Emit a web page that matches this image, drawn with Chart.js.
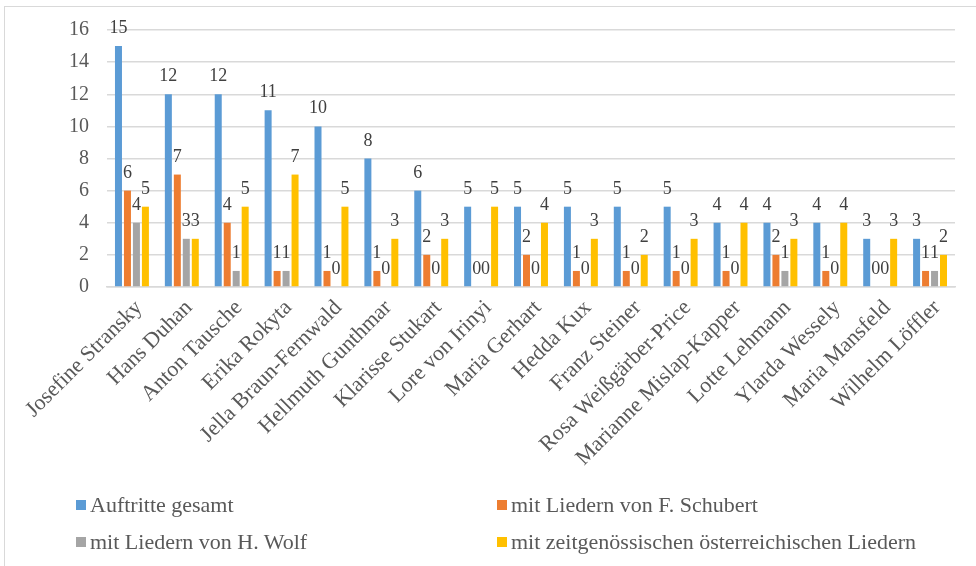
<!DOCTYPE html>
<html lang="de">
<head>
<meta charset="utf-8">
<script src="https://cdn.jsdelivr.net/npm/chart.js@4/dist/chart.umd.min.js"></script>
<style>
  html, body { margin: 0; padding: 0; background: #fff; overflow: hidden; }
  #wrap { position: relative; width: 976px; height: 566px; }
  #frame { position: absolute; left: 4px; top: 6px; width: 1000px; height: 600px;
           border: 1px solid #d9d9d9; box-sizing: border-box; }
  canvas { position: absolute; left: 0; top: 0; }
  .leg { position: absolute; font-family: 'Liberation Serif', 'DejaVu Serif', serif; font-size: 22px;
         color: #595959; white-space: nowrap; line-height: 22px; }
  .leg span.box { display: inline-block; width: 10px; height: 10px; margin-right: 4px;
                  vertical-align: 2px; }
</style>
</head>
<body>
<div id="wrap">
  <div id="frame"></div>
  <canvas id="c" width="976" height="566"></canvas>
  <div id="legend"></div>
</div>
<script>
// Sängerinnen und Sänger
const names = [
  "Josefine Stransky", "Hans Duhan", "Anton Tausche", "Erika Rokyta",
  "Jella Braun-Fernwald", "Hellmuth Gunthmar", "Klarisse Stukart", "Lore von Irinyi",
  "Maria Gerhart", "Hedda Kux", "Franz Steiner", "Rosa Weißgärber-Price",
  "Marianne Mislap-Kapper", "Lotte Lehmann", "Ylarda Wessely", "Maria Mansfeld",
  "Wilhelm Löffler"
];
const seriesNames = [
  "Auftritte gesamt",
  "mit Liedern von F. Schubert",
  "mit Liedern von H. Wolf",
  "mit zeitgenössischen österreichischen Liedern"
];
const auftritteGesamt = [15, 12, 12, 11, 10, 8, 6, 5, 5, 5, 5, 5, 4, 4, 4, 3, 3];
const schubert        = [6, 7, 4, 1, 1, 1, 2, 0, 2, 1, 1, 1, 1, 2, 1, 0, 1];
const wolf            = [4, 3, 1, 1, 0, 0, 0, 0, 0, 0, 0, 0, 0, 1, 0, 0, 1];
const zeitgenoessisch = [5, 3, 5, 7, 5, 3, 3, 5, 4, 3, 2, 3, 4, 3, 4, 3, 2];
const yTicks = [0, 2, 4, 6, 8, 10, 12, 14, 16];

const colors = ["#5B9BD5", "#ED7D31", "#A5A5A5", "#FFC000"];
const serif = "'Liberation Serif', 'DejaVu Serif', serif";

// value printed above every bar
const valueLabels = {
  id: 'valueLabels',
  afterDatasetsDraw(chart) {
    const ctx = chart.ctx;
    ctx.save();
    ctx.font = '18px ' + serif;
    ctx.fillStyle = '#404040';
    ctx.textAlign = 'center';
    ctx.textBaseline = 'alphabetic';
    chart.data.datasets.forEach((ds, i) => {
      chart.getDatasetMeta(i).data.forEach((bar, j) => {
        ctx.fillText(String(ds.data[j]), bar.x, bar.y - 13);
      });
    });
    ctx.restore();
  }
};

const seriesData = [auftritteGesamt, schubert, wolf, zeitgenoessisch];

const chart = new Chart(document.getElementById('c'), {
  type: 'bar',
  data: {
    labels: names,
    datasets: seriesData.map((d, i) => ({
      label: seriesNames[i],
      data: d,
      backgroundColor: colors[i],
      borderWidth: 0,
      barPercentage: 0.78,
      categoryPercentage: 0.72
    }))
  },
  options: {
    responsive: false,
    animation: false,
    layout: { padding: { left: 0, right: 21, top: 30, bottom: 0 } },
    plugins: {
      legend: { display: false },
      tooltip: { enabled: false }
    },
    scales: {
      y: {
        min: 0,
        max: 16,
        afterBuildTicks(scale) { scale.ticks = yTicks.map(v => ({ value: v })); },
        afterFit(scale) { scale.width = 107; },
        ticks: {
          font: { family: serif, size: 20 },
          color: '#595959',
          padding: 18
        },
        grid: { color: '#d9d9d9', lineWidth: 1.5, drawTicks: false },
        border: { display: false }
      },
      x: {
        afterFit(scale) { scale.height = 279; },
        ticks: {
          font: { family: serif, size: 22 },
          color: '#595959',
          minRotation: 45,
          maxRotation: 45,
          autoSkip: false,
          padding: 0,
          labelOffset: 7
        },
        grid: { display: false },
        border: { color: '#d9d9d9', width: 1.5 }
      }
    }
  },
  plugins: [valueLabels]
});

// two-column legend under the plot
const legendPos = [
  { left: 76, top: 494 }, { left: 497, top: 494 },
  { left: 76, top: 531 }, { left: 497, top: 531 }
];
const legendEl = document.getElementById('legend');
chart.data.datasets.forEach((ds, i) => {
  const item = document.createElement('div');
  item.className = 'leg';
  item.style.left = legendPos[i].left + 'px';
  item.style.top = legendPos[i].top + 'px';
  const box = document.createElement('span');
  box.className = 'box';
  box.style.background = ds.backgroundColor;
  item.appendChild(box);
  item.appendChild(document.createTextNode(ds.label));
  legendEl.appendChild(item);
});
</script>
</body>
</html>
